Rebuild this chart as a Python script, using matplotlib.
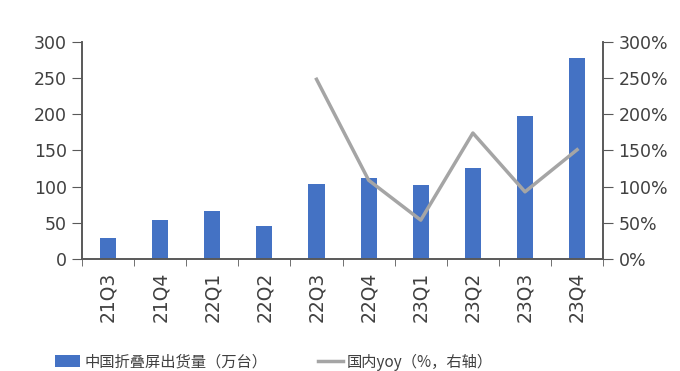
import matplotlib
matplotlib.use('Agg')
import matplotlib.pyplot as plt
from matplotlib.ticker import FuncFormatter
import numpy as np

plt.rcParams['font.family'] = ['Noto Sans CJK SC', 'DejaVu Sans']

# ----数据--------
quarters = ['21Q3', '21Q4', '22Q1', '22Q2', '22Q3', '22Q4', '23Q1', '23Q2', '23Q3', '23Q4']
shipments = [30, 54, 67, 46, 104, 112, 102, 126, 197, 277]      # 万台
yoy = [None, None, None, None, 248, 109, 54, 174, 93, 151]      # %

bar_color = '#4472C4'
line_color = '#A5A5A5'
text_color = '#404040'
axis_color = '#595959'
num_font = 'DejaVu Sans'

fig = plt.figure(figsize=(6.8, 3.71), dpi=100)
ax = fig.add_axes([0.1206, 0.301, 0.7664, 0.587])
ax2 = ax.twinx()

x = np.arange(len(quarters))
ax.bar(x, shipments, width=0.31, color=bar_color, label='中国折叠屏出货量（万台）', zorder=2)

yoy_x = [i for i, v in enumerate(yoy) if v is not None]
yoy_y = [v for v in yoy if v is not None]
ax2.plot(yoy_x, yoy_y, color=line_color, lw=2.5, label='国内yoy（%，右轴）', zorder=3)

ax.set_xlim(-0.5, len(quarters) - 0.5)
ax.set_ylim(0, 300)
ax2.set_ylim(0, 300)
ax.set_yticks(range(0, 301, 50))
ax2.set_yticks(range(0, 301, 50))
ax2.yaxis.set_major_formatter(FuncFormatter(lambda v, p: f'{v:.0f}%'))

# 类别标签在中间, 刻度线在边界
ax.set_xticks(x)
ax.set_xticklabels(quarters, rotation=90, fontsize=13.5, color=text_color, family=num_font)
ax.set_xticks(np.arange(-0.5, len(quarters), 1), minor=True)
ax.tick_params(axis='x', which='major', length=0, pad=9)
ax.tick_params(axis='x', which='minor', length=5, color=axis_color, direction='out')

for a in (ax, ax2):
    a.tick_params(axis='y', labelsize=12.5, colors=text_color, length=7, color=axis_color, pad=4)
    for lab in a.get_yticklabels():
        lab.set_family(num_font)
    a.spines['top'].set_visible(False)
    for s in ('left', 'right', 'bottom'):
        a.spines[s].set_color(axis_color)
        a.spines[s].set_linewidth(1.2)

ax.set_zorder(ax2.get_zorder() - 1)
ax.patch.set_visible(False)

h1, l1 = ax.get_legend_handles_labels()
h2, l2 = ax2.get_legend_handles_labels()
fig.legend(h1 + h2, l1 + l2, loc='center left', bbox_to_anchor=(0.081, 0.024), ncol=2,
           frameon=False, fontsize=11, handlelength=1.65, handleheight=0.8,
           columnspacing=3.3, handletextpad=0.25, borderpad=0, borderaxespad=0,
           labelcolor=text_color)

fig.savefig('out.png', dpi=100)
